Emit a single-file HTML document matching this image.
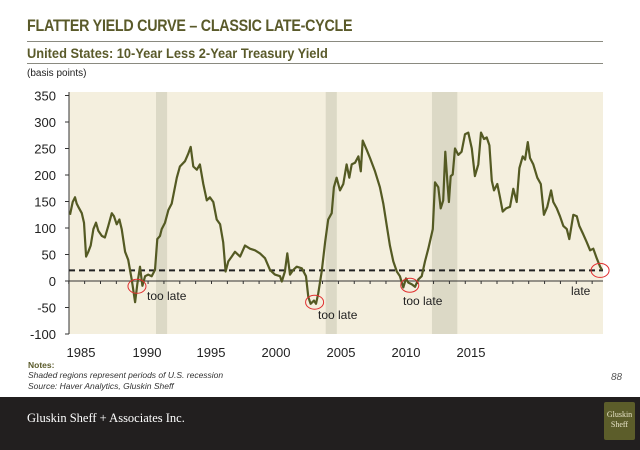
<!DOCTYPE html>
<html><head><meta charset="utf-8">
<style>
body{margin:0;width:640px;height:450px;background:#fff;position:relative;overflow:hidden;font-family:"Liberation Sans",sans-serif}
.t{position:absolute;white-space:nowrap}
</style></head>
<body>
<div class="t" style="left:27px;top:16px;font-size:17px;font-weight:bold;color:#5a5a2a;letter-spacing:-0.3px;transform:scaleX(0.84);transform-origin:left">FLATTER YIELD CURVE – CLASSIC LATE-CYCLE</div>
<div style="position:absolute;left:27px;top:41px;width:576px;height:1px;background:#8a8a80"></div>
<div class="t" style="left:27px;top:46px;font-size:13.5px;font-weight:bold;color:#5a5a2a;transform:scaleX(0.95);transform-origin:left">United States: 10-Year Less 2-Year Treasury Yield</div>
<div style="position:absolute;left:27px;top:63px;width:576px;height:1px;background:#8a8a80"></div>
<div class="t" style="left:27px;top:68px;font-size:10px;color:#222">(basis points)</div>

<svg id="chart" style="position:absolute;left:0;top:0" width="640" height="400"></svg>

<div class="t" style="left:28px;top:360px;font-size:8.5px;font-weight:bold;color:#5a5a2a">Notes:</div>
<div class="t" style="left:28px;top:370px;font-size:8.5px;font-style:italic;color:#333">Shaded regions represent periods of U.S. recession</div>
<div class="t" style="left:28px;top:381px;font-size:8.5px;font-style:italic;color:#333">Source: Haver Analytics, Gluskin Sheff</div>
<div class="t" style="left:611px;top:372px;font-size:10px;font-style:italic;color:#555">88</div>

<div style="position:absolute;left:0;top:397px;width:640px;height:53px;background:#221f1f">
  <div class="t" style="left:27px;top:14px;font-family:'Liberation Serif',serif;font-size:12.5px;color:#fff">Gluskin Sheff + Associates Inc.</div>
  <div style="position:absolute;left:604px;top:5px;width:31px;height:38px;background:#5c5d2a;border-radius:2px;font-family:'Liberation Serif',serif;font-size:8px;color:#e8e4c8;text-align:center;line-height:10px;padding-top:8px;box-sizing:border-box">Gluskin<br>Sheff</div>
</div>

<script>
const years=[1985.08,1985.25,1985.39,1985.50,1985.60,1985.82,1985.96,1986.09,1986.23,1986.38,1986.55,1986.72,1986.86,1987.08,1987.28,1987.49,1987.71,1987.85,1988.02,1988.19,1988.34,1988.55,1988.75,1988.97,1989.18,1989.32,1989.49,1989.64,1989.81,1990.01,1990.23,1990.44,1990.58,1990.75,1990.86,1991.07,1991.28,1991.49,1991.81,1992.01,1992.33,1992.54,1992.69,1992.85,1993.07,1993.27,1993.48,1993.70,1993.90,1994.11,1994.33,1994.54,1994.74,1994.89,1995.06,1995.27,1995.48,1995.80,1996.11,1996.43,1996.74,1997.06,1997.37,1997.69,1998.00,1998.32,1998.43,1998.63,1998.78,1998.95,1999.16,1999.37,1999.69,1999.96,2000.10,2000.25,2000.46,2000.59,2000.73,2000.95,2001.16,2001.36,2001.58,2001.72,2001.89,2002.10,2002.31,2002.52,2002.69,2002.84,2003.05,2003.26,2003.41,2003.53,2003.79,2003.99,2004.31,2004.62,2004.83,2005.05,2005.25,2005.46,2005.68,2005.88,2006.09,2006.26,2006.41,2006.62,2006.83,2007.04,2007.25,2007.46,2007.67,2007.95,2008.09,2008.30,2008.45,2008.61,2008.74,2008.87,2008.97,2009.08,2009.21,2009.35,2009.56,2009.77,2009.98,2010.19,2010.41,2010.61,2010.82,2010.99,2011.18,2011.35,2011.52,2011.67,2011.81,2012.02,2012.19,2012.36,2012.57,2012.82,2013.03,2013.24,2013.41,2013.62,2013.77,2013.94,2014.08,2014.29,2014.54,2014.76,2014.96,2015.17,2015.41,2015.55,2015.77,2015.97,2016.18,2016.40,2016.56,2016.81,2017.03,2017.19,2017.44,2017.66,2017.87,2018.07,2018.29,2018.50,2018.62];
const spread=[125,149,158,146,140,128,110,46,55,67,98,110,95,85,82,104,128,122,107,116,98,55,40,3,-40,-6,27,-9,9,12,9,21,79,85,98,110,134,146,195,216,226,241,253,216,210,220,183,152,158,149,116,107,73,18,37,46,55,46,67,61,58,52,43,21,12,9,-1,18,52,12,21,27,24,9,-30,-43,-37,-43,-24,18,73,116,128,177,195,171,183,220,195,220,223,235,207,265,247,232,207,177,146,104,67,37,18,9,-12,5,-3,-6,-11,3,9,37,61,98,186,177,137,152,244,189,149,198,201,250,238,244,277,280,250,198,220,280,268,271,256,189,171,183,158,131,137,140,174,149,213,235,229,262,232,220,195,183,125,140,171,149,137,122,104,98,79,125,122,104,88,73,58,61,43,27,21];
const recessions=[[1990.5,1991.2],[2001.2,2001.9],[2007.9,2009.5]];
const yTicks=[350,300,250,200,150,100,50,0,-50,-100];
const xLabels=["1985","1990","1995","2000","2005","2010","2015"];
const xLabelPos=[81,147,211,276,341,406,471];
const threshold=20;
const annotations=[{t:"too late",yr:1989.3,v:-10,lx:147,ly:300},{t:"too late",yr:2000.5,v:-40,lx:318,ly:319},{t:"too late",yr:2006.5,v:-8,lx:403,ly:305},{t:"late",yr:2018.5,v:20,lx:571,ly:295}];

const NS="http://www.w3.org/2000/svg";
const svg=document.getElementById('chart');
const X0=69,X1=603,Y0=92,Y1=334;
const xs=yr=>156+(yr-1990.5)*15.86;
const ys=v=>281+(0-v)*(Y1-281)/100;
function mk(tag,attrs){const e=document.createElementNS(NS,tag);for(const k in attrs)e.setAttribute(k,attrs[k]);svg.appendChild(e);return e;}

let e=mk('rect',{x:X0,y:Y0,width:X1-X0,height:Y1-Y0,fill:'#f4efde'});


recessions.forEach(r=>{
  const el=mk('rect',{x:xs(r[0]),y:Y0,width:xs(r[1])-xs(r[0]),height:Y1-Y0,fill:'#dcd9c6'});
  
  
});
e=mk('line',{x1:X0,y1:Y0,x2:X0,y2:Y1,stroke:'#333','stroke-width':1});


yTicks.forEach(v=>{
  const tk=mk('line',{x1:X0-4,y1:ys(v),x2:X0,y2:ys(v),stroke:'#333','stroke-width':1});
  
  
  const t=mk('text',{x:X0-13,y:ys(v)+5,'text-anchor':'end','font-size':13,fill:'#222','font-family':'Liberation Sans, sans-serif'});
  t.textContent=v;
  
  
});
e=mk('line',{x1:X0,y1:ys(0),x2:X1,y2:ys(0),stroke:'#333','stroke-width':1});


for(let y=1985;y<=2018;y++){
  const tk=mk('line',{x1:xs(y),y1:ys(0),x2:xs(y),y2:ys(0)+3,stroke:'#333','stroke-width':1});
  
  
}
xLabels.forEach((l,i)=>{
  const t=mk('text',{x:xLabelPos[i],y:357,'text-anchor':'middle','font-size':13,fill:'#222','font-family':'Liberation Sans, sans-serif'});
  t.textContent=l;
  
  
});
e=mk('line',{x1:X0,y1:ys(threshold),x2:X1,y2:ys(threshold),stroke:'#222','stroke-width':2,'stroke-dasharray':'6,4'});


let d='';
years.forEach((yr,i)=>{d+=(i?'L':'M')+xs(yr).toFixed(1)+','+ys(spread[i]).toFixed(1);});
e=mk('path',{d:d,fill:'none',stroke:'#545a23','stroke-width':2.2,'stroke-linejoin':'round'});


annotations.forEach(a=>{
  const c=mk('ellipse',{cx:xs(a.yr),cy:ys(a.v),rx:9,ry:7,fill:'none',stroke:'#e03030','stroke-width':1});
  
  
  const t=mk('text',{x:a.lx,y:a.ly,'font-size':12,fill:'#222','font-family':'Liberation Sans, sans-serif'});
  t.textContent=a.t;
  
  
});
</script>
</body></html>
